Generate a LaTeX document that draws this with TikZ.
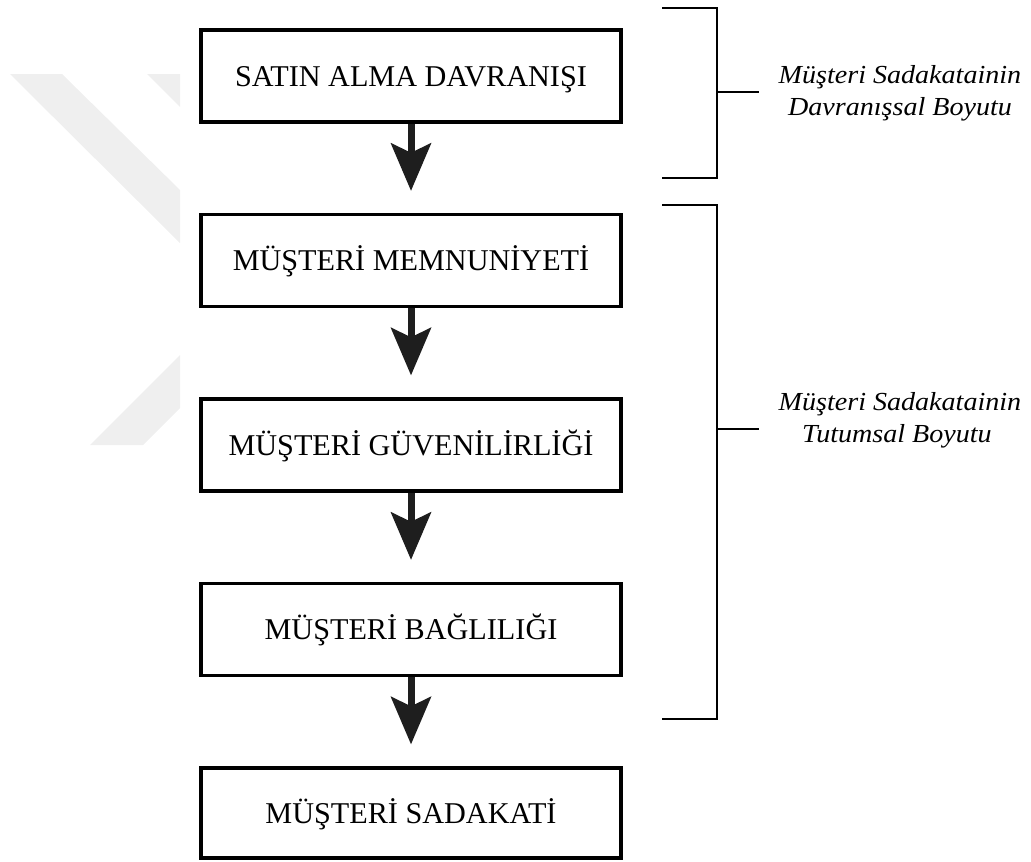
\documentclass[tikz,border=0pt]{standalone}
\usepackage{fontspec}
\setmainfont{Liberation Serif}
\newfontfamily\labfont[FakeStretch=1.08]{Liberation Serif}
\usetikzlibrary{arrows.meta}
\definecolor{wm}{HTML}{EFEFEF}
\definecolor{ink}{HTML}{1E1E1E}
\tikzset{
 stepbox/.style={draw=black, line width=3.5pt, minimum width=420pt, minimum height=92pt, inner sep=0pt, text height=20pt, text depth=0pt, font=\fontsize{30.2}{34}\selectfont},
 flow/.style={draw=ink, line width=7pt, -{Stealth[length=48pt,width=41pt,inset=10pt,line width=0pt]}, shorten >=22pt},
 brk/.style={draw=black, line width=2pt},
 lab/.style={font=\labfont\itshape\fontsize{26}{32}\selectfont, inner sep=0pt, anchor=base},
}
\begin{document}
\begin{tikzpicture}[x=1pt,y=-1pt]
\useasboundingbox (0,0) rectangle (1031,862);
% watermark
\fill[wm] (10,74) -- (62,74) -- (180,190) -- (180,243) -- cycle;
\fill[wm] (147,74) -- (180,74) -- (180,107) -- cycle;
\fill[wm] (90,445) -- (143,445) -- (180,408) -- (180,355) -- cycle;
% boxes
\node[stepbox] (b1) at (411,76) {SATIN ALMA DAVRANIŞI};
\node[stepbox] (b2) at (411,260.5) {MÜŞTERİ MEMNUNİYETİ};
\node[stepbox] (b3) at (411,445) {MÜŞTERİ GÜVENİLİRLİĞİ};
\node[stepbox] (b4) at (411,629.5) {MÜŞTERİ BAĞLILIĞI};
\node[stepbox, minimum height=90pt] (b5) at (411,813) {MÜŞTERİ SADAKATİ};
% arrows
\draw[flow] (b1) -- (b2);
\draw[flow] (b2) -- (b3);
\draw[flow] (b3) -- (b4);
\draw[flow] (b4) -- (b5);
% brackets
\draw[brk] (662,8) -- (717,8) -- (717,178) -- (662,178);
\draw[brk] (717,92) -- (759,92);
\draw[brk] (662,205) -- (717,205) -- (717,719) -- (662,719);
\draw[brk] (717,429) -- (759,429);
% labels
\node[lab] (l1a) at (900,83) {Müşteri Sadakatainin};
\node[lab] (l1b) at (900,115) {Davranışsal Boyutu};
\node[lab] (l2a) at (900,410) {Müşteri Sadakatainin};
\node[lab] (l2b) at (897,442) {Tutumsal Boyutu};
\end{tikzpicture}
\end{document}
